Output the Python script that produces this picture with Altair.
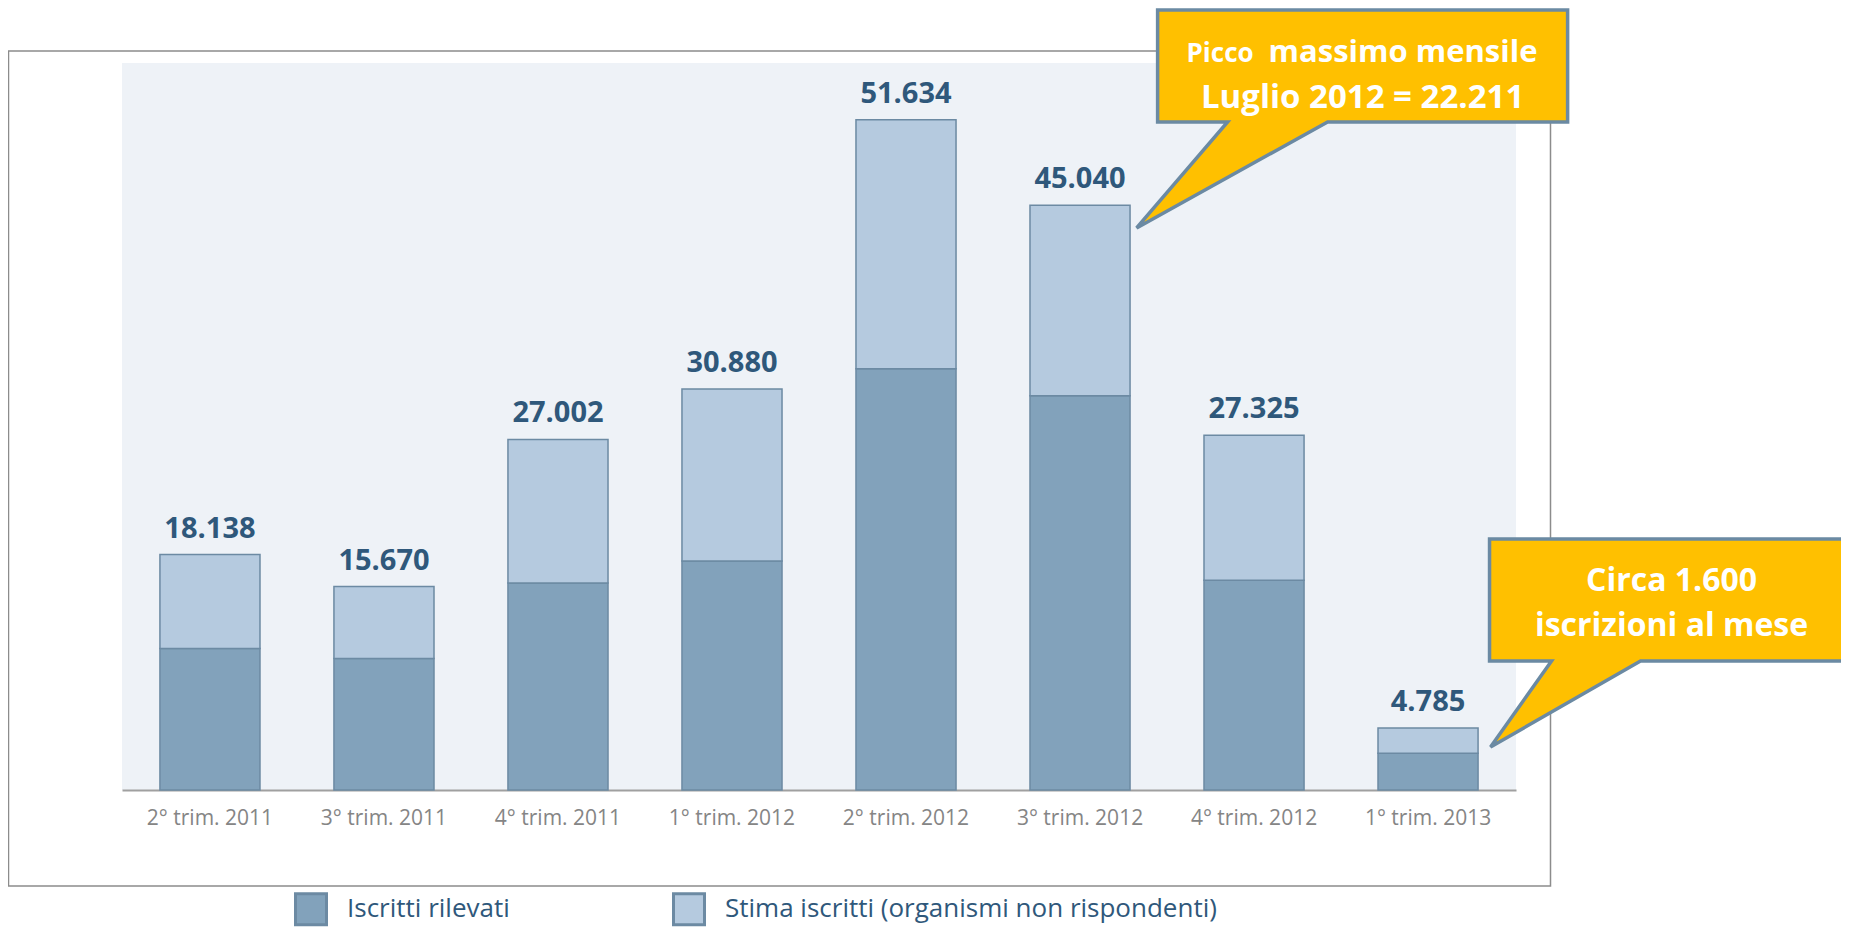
import altair as alt
import pandas as pd

# ---------------- data ----------------
categories = ["2° trim. 2011", "3° trim. 2011", "4° trim. 2011", "1° trim. 2012",
              "2° trim. 2012", "3° trim. 2012", "4° trim. 2012", "1° trim. 2013"]
rilevati = [10905, 10136, 15954, 17647, 32454, 30376, 16162, 2825]
stima = [7233, 5534, 11048, 13233, 19180, 14664, 11163, 1960]
totali = [18138, 15670, 27002, 30880, 51634, 45040, 27325, 4785]
total_labels = ["18.138", "15.670", "27.002", "30.880", "51.634", "45.040", "27.325", "4.785"]
series_names = ["Iscritti rilevati", "Stima iscritti (organismi non rispondenti)"]
series_colors = ["#82a2bb", "#b5cadf"]

callout1_cat = ["3° trim. 2012"]
callout1_val = [45040]
callout2_cat = ["1° trim. 2013"]
callout2_val = [4785]

# ---------------- tables ----------------
rows = []
for c, r, s in zip(categories, rilevati, stima):
    rows.append({"cat": c, "series": series_names[0], "value": r, "ord": 0})
    rows.append({"cat": c, "series": series_names[1], "value": s, "ord": 1})
df_bars = pd.DataFrame(rows)
df_tot = pd.DataFrame({"cat": categories, "total": totali, "label": total_labels})
df_c1 = pd.DataFrame({"cat": callout1_cat, "total": callout1_val})
df_c2 = pd.DataFrame({"cat": callout2_cat, "total": callout2_val})
df_one = pd.DataFrame({"k": [0]})

W, H = 1394, 727
YMAX = 56000

xenc = alt.X("cat:N", sort=categories,
             scale=alt.Scale(domain=categories, paddingInner=0.425, paddingOuter=0.218),
             axis=alt.Axis(title=None, labelAngle=0, labelFont="Open Sans", labelFontSize=21,
                           labelColor="#858585", labelPadding=17, ticks=False, tickSize=0,
                           domainColor="#a0a0a0", domainWidth=2, grid=False))
yscale = alt.Scale(domain=[0, YMAX], nice=False, zero=True)

frame = alt.Chart(df_one).mark_rect(fillOpacity=0, stroke="#8c8c8c", strokeWidth=1.5).encode(
    x=alt.value(-113.5), x2=alt.value(1428.5), y=alt.value(-12), y2=alt.value(823)
)

bars = alt.Chart(df_bars).mark_bar(stroke="#6c8aa3", strokeWidth=1.5).encode(
    x=xenc,
    y=alt.Y("value:Q", stack="zero", scale=yscale, axis=None),
    color=alt.Color("series:N",
                    scale=alt.Scale(domain=series_names, range=series_colors),
                    legend=alt.Legend(title=None, orient="none", legendX=172, legendY=829,
                                      direction="horizontal", columns=2, symbolType="square",
                                      symbolSize=961, symbolStrokeColor="#6c8aa3",
                                      symbolStrokeWidth=3, symbolOpacity=1,
                                      labelFont="Open Sans", labelFontSize=26,
                                      labelColor="#2f587b", labelOffset=19,
                                      columnPadding=157, labelLimit=900, padding=0)),
    order=alt.Order("ord:Q"),
)

labels = alt.Chart(df_tot).mark_text(font="Open Sans", fontWeight="bold", fontSize=29,
                                     color="#2f587b", baseline="alphabetic", dy=-17).encode(
    x=alt.X("cat:N", sort=categories),
    y=alt.Y("total:Q", scale=yscale, axis=None),
    text="label:N",
)

path1 = ("M 56.6,22.7 L 147.6,-83.3 L 77.6,-83.3 L 77.6,-195.3 L 487.6,-195.3 "
         "L 487.6,-83.3 L 247.6,-83.3 Z")
path2 = ("M 62.5,19.1 L 123.5,-66.9 L 61.5,-66.9 L 61.5,-188.9 L 490,-188.9 "
         "L 490,-66.9 L 212.5,-66.9 Z")

def callout(df, path):
    return alt.Chart(df).mark_point(shape=path, size=4, filled=True, fill="#ffc000",
                                    stroke="#6b8aa3", strokeWidth=3.5, opacity=1,
                                    fillOpacity=1, strokeOpacity=1).encode(
        x=alt.X("cat:N", sort=categories),
        y=alt.Y("total:Q", scale=yscale, axis=None),
    )

def ctext(df, txt, size, dx, dy, align="center"):
    return alt.Chart(df).mark_text(text=txt, font="Open Sans", fontWeight="bold",
                                   fontSize=size, color="white", align=align,
                                   baseline="alphabetic", dx=dx, dy=dy).encode(
        x=alt.X("cat:N", sort=categories),
        y=alt.Y("total:Q", scale=yscale, axis=None),
    )

c1 = callout(df_c1, path1)
c1a = ctext(df_c1, "Picco", 26, 173.6, -143.6, "right")
c1b = ctext(df_c1, "massimo mensile", 31, 188.6, -143.6, "left")
c1c = ctext(df_c1, "Luglio 2012 = 22.211", 33, 282.6, -97)

c2 = callout(df_c2, path2)
c2a = ctext(df_c2, "Circa 1.600", 32, 243.5, -137.2)
c2b = ctext(df_c2, "iscrizioni al mese", 32, 243.5, -91.9)

chart = alt.layer(frame, bars, labels, c1, c1a, c1b, c1c, c2, c2a, c2b).properties(
    width=W, height=H,
    autosize=alt.AutoSizeParams(type="none"),
    padding={"left": 114, "top": 55, "right": 325, "bottom": 139},
    background="white",
).configure_view(fill="#eef2f7", strokeWidth=0)

chart.save("out.html", embed_options={"renderer": "svg", "actions": False})
